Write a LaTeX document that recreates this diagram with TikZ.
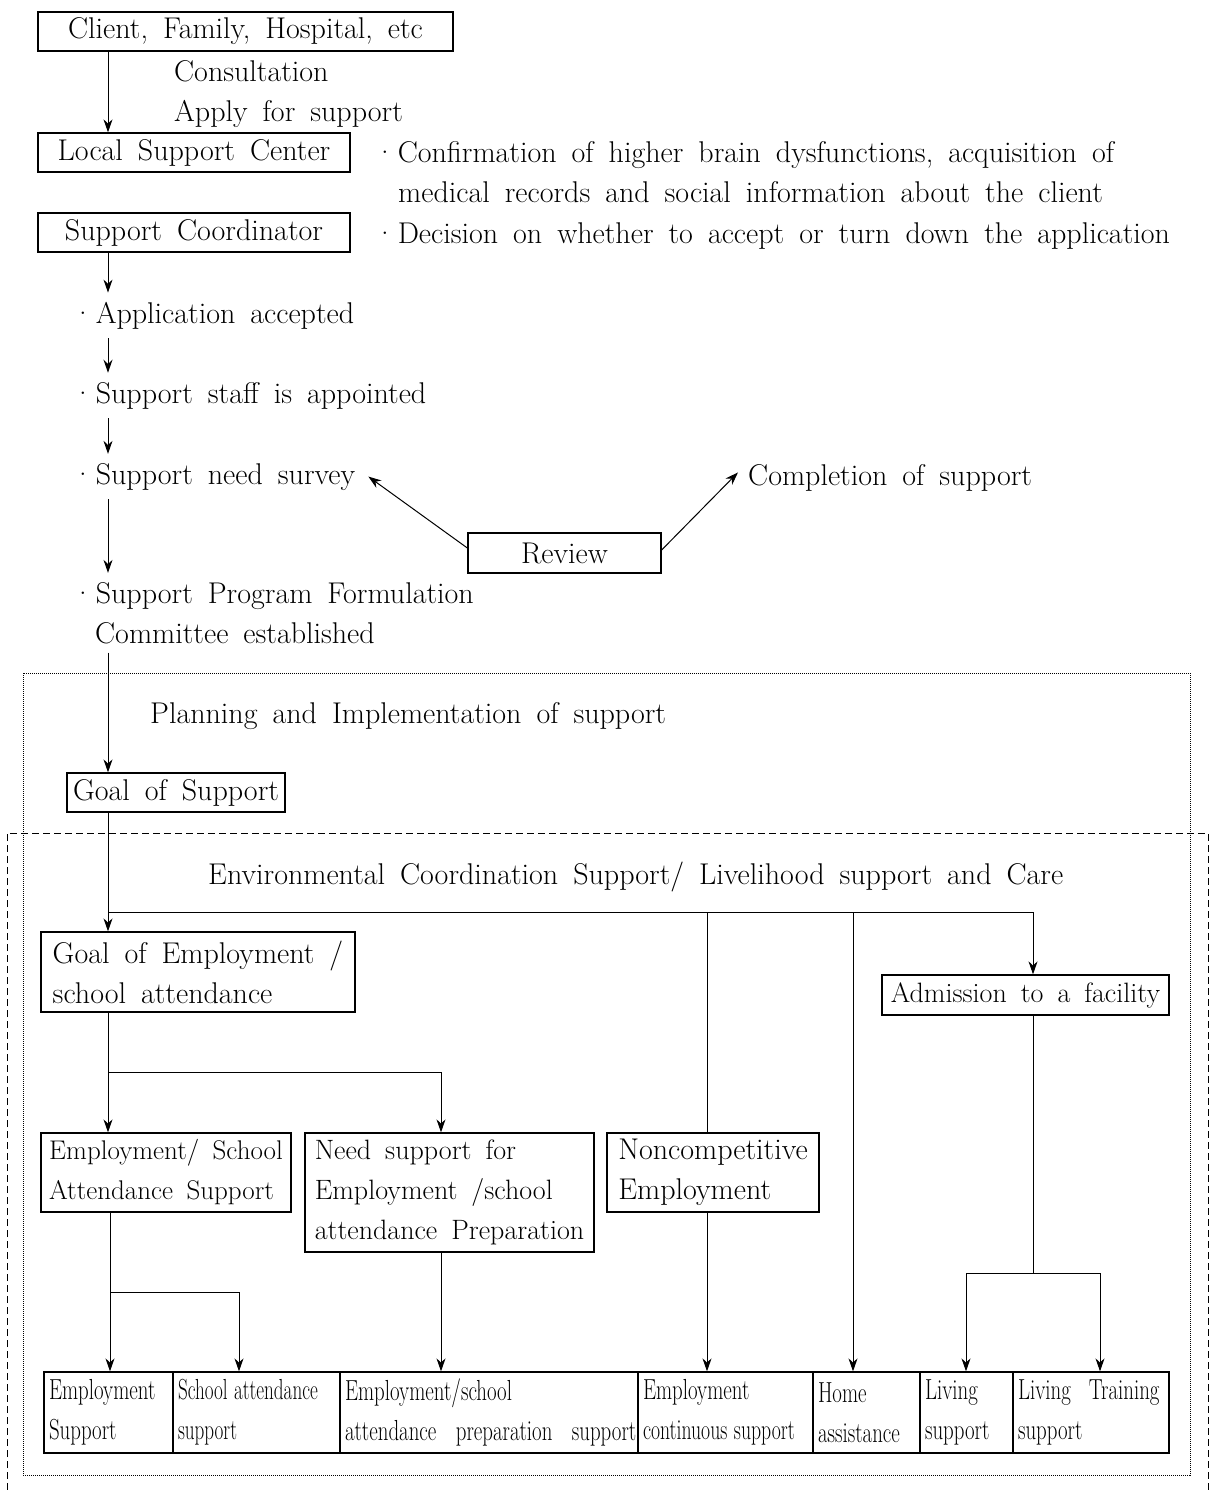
\documentclass[tikz,border=0pt]{standalone}
\usepackage{fontspec}
\usepackage{graphicx}
\usetikzlibrary{arrows.meta}
\newcommand\narrowtxt[2][0.72]{\scalebox{#1}[1]{#2}}
\newcommand\fs[1]{\fontsize{#1}{40}\selectfont\spaceskip=0.5em plus 0.1em minus 0.1em\relax}
\newcommand\cellfont{\fontsize{29}{40}\selectfont\spaceskip=0.6em plus 0.1em minus 0.1em\relax}
\newcommand\dotmark{\textperiodcentered\hspace{2pt}}
\tikzset{
  every node/.style={font=\fs{30}},
  box/.style={draw, line width=1.3pt, inner sep=0pt, align=left},
  txt/.style={inner xsep=0pt, inner ysep=9pt, anchor=base west},
  cell/.style={draw, line width=1.3pt, inner xsep=5pt, inner ysep=0pt, align=left, minimum height=81pt, font=\cellfont},
  arr/.style={line width=1pt, -{Stealth[length=13pt,width=9pt]}},
  ln/.style={line width=1pt},
}
\begin{document}
\begin{tikzpicture}[x=1pt,y=-1pt]
\useasboundingbox (0,0) rectangle (1211,1490);
% reference x positions
\coordinate (X108) at (108,0);
\coordinate (X110) at (110,0);
\coordinate (X239) at (239,0);
\coordinate (X441) at (441,0);
\coordinate (X707) at (707,0);
\coordinate (X853) at (853,0);
\coordinate (X966) at (966,0);
\coordinate (X1033) at (1033,0);
\coordinate (X1100) at (1100,0);
% frames
\draw[line width=1pt, densely dotted] (23,673) rectangle (1190,1475);
\draw[line width=1pt, dash pattern=on 7pt off 4pt] (7,1490) -- (7,833) -- (1208,833) -- (1208,1490);
% top part
\node[box, minimum width=415pt, minimum height=39pt] (b1) at (245.5,31.5) {Client, Family, Hospital, etc};
\node[txt] (cons) at (174,82) {Consultation};
\node[txt] (apply) at (174,122) {Apply for support};
\node[box, minimum width=312pt, minimum height=39pt] (b2) at (194,152.5) {Local Support Center};
\node[box, minimum width=312pt, minimum height=39pt] (b3) at (194,232.5) {Support Coordinator};
\node[txt] (conf1) at (374,163) {\dotmark Confirmation of higher brain dysfunctions, acquisition of};
\node[txt] (conf2) at (398,203) {medical records and social information about the client};
\node[txt] (dec) at (374,243) {\dotmark Decision on whether to accept or turn down the application};
\node[txt] (app) at (72,323) {\dotmark Application accepted};
\node[txt] (staff) at (72,403) {\dotmark Support staff is appointed};
\node[txt] (survey) at (72,484) {\dotmark Support need survey};
\node[txt] (compl) at (748,485) {Completion of support};
\node[box, minimum width=193pt, minimum height=40pt] (review) at (564.5,553) {Review};
\node[txt] (prog) at (72,603) {\dotmark Support Program Formulation};
\node[txt] (prog2) at (95,643) {Committee established};
\node[txt] (plan) at (150,723) {Planning and Implementation of support};
\node[box, minimum width=218pt, minimum height=39pt] (gsup) at (176,792.5) {Goal of Support};
\node[txt] (env) at (208,884) {Environmental Coordination Support/ Livelihood support and Care};
% middle boxes
\node[box, minimum width=314pt, minimum height=80pt] (gemp) at (198,972) {Goal of Employment /\\school attendance};
\node[box, minimum width=287pt, minimum height=40pt, font=\fs{28}] (adm) at (1025.5,995) {Admission to a facility};
\node[box, minimum width=250pt, minimum height=79pt, font=\fs{27}] (esa) at (166,1172.5) {Employment/ School\\Attendance Support};
\node[box, minimum width=289pt, minimum height=119pt, font=\fs{28}] (need) at (449.5,1192.5) {Need support for\\Employment /school\\attendance Preparation};
\node[box, minimum width=212pt, minimum height=79pt] (nonc) at (713,1172.5) {Noncompetitive\\Employment};
% bottom row
\node[cell, minimum width=129pt, text width=119pt] (c1) at (108.5,1412.5) {\narrowtxt{Employment}\\\narrowtxt{Support}};
\node[cell, minimum width=167pt, text width=157pt] (c2) at (256.5,1412.5) {\narrowtxt[0.66]{School attendance}\\\narrowtxt[0.66]{support}};
\node[cell, minimum width=298pt, text width=288pt] (c3) at (489,1412.5) {\narrowtxt{Employment/school}\\\narrowtxt{attendance\hspace{27pt}preparation\hspace{27pt}support}};
\node[cell, minimum width=175pt, text width=165pt] (c4) at (725.5,1412.5) {\narrowtxt{Employment}\\\narrowtxt[0.68]{continuous support}};
\node[cell, minimum width=107pt, text width=97pt] (c5) at (866.5,1412.5) {\narrowtxt{Home}\\\narrowtxt{assistance}};
\node[cell, minimum width=93pt, text width=83pt] (c6) at (966.5,1412.5) {\narrowtxt{Living}\\\narrowtxt{support}};
\node[cell, minimum width=156pt, text width=146pt] (c7) at (1091,1412.5) {\narrowtxt{Living\hspace{25pt}Training}\\\narrowtxt{support}};
% connectors
\draw[arr] (b1.south -| X108) -- (b2.north -| X108);
\draw[arr] (b3.south -| X108) -- (app.north -| X108);
\draw[arr] (app.south -| X108) -- (staff.north -| X108);
\draw[arr] (staff.south -| X108) -- (survey.north -| X108);
\draw[arr] (survey.south -| X108) -- (prog.north -| X108);
\draw[arr] ([yshift=5pt]review.west) -- ([xshift=13pt]survey.east);
\draw[arr] ([yshift=3pt]review.east) -- ([xshift=-10pt,yshift=5pt]compl.west);
\draw[arr] (prog2.south -| X108) -- (gsup.north -| X108);
\draw[arr] (gsup.south -| X108) -- (gemp.north -| X108);
\coordinate (J1) at (108,912);
\draw[arr] (J1) -| (adm.north -| X1033);
\draw[ln] (J1 -| X707) -- (nonc.north -| X707);
\draw[arr] (J1 -| X853) -- (c5.north -| X853);
\draw[arr] (gemp.south -| X108) -- (esa.north -| X108);
\coordinate (J2) at (108,1072);
\draw[arr] (J2) -| (need.north -| X441);
\draw[arr] (esa.south -| X110) -- (c1.north -| X110);
\coordinate (J3) at (110,1292);
\draw[arr] (J3) -| (c2.north -| X239);
\draw[arr] (need.south -| X441) -- (c3.north -| X441);
\draw[arr] (nonc.south -| X707) -- (c4.north -| X707);
\coordinate (J4) at (1033,1273);
\draw[ln] (adm.south -| X1033) -- (J4);
\draw[ln] (J4 -| X966) -- (J4 -| X1100);
\draw[arr] (J4 -| X966) -- (c6.north -| X966);
\draw[arr] (J4 -| X1100) -- (c7.north -| X1100);
\end{tikzpicture}
\end{document}
